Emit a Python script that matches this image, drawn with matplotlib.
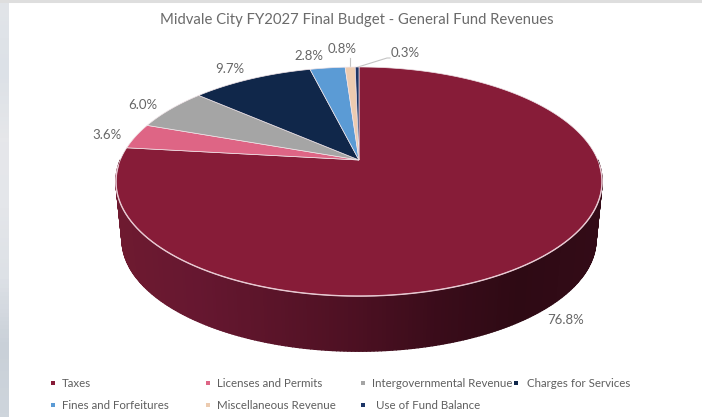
import numpy as np
import matplotlib
matplotlib.use('Agg')
import matplotlib.pyplot as plt
from matplotlib.collections import PolyCollection
from matplotlib.colors import LinearSegmentedColormap

plt.rcParams['font.family'] = ['Lato', 'DejaVu Sans']

TITLE = 'Midvale City FY2027 Final Budget - General Fund Revenues'
categories = ['Taxes', 'Licenses and Permits', 'Intergovernmental Revenue',
              'Charges for Services', 'Fines and Forfeitures',
              'Miscellaneous Revenue', 'Use of Fund Balance']
shares = [76.8, 3.6, 6.0, 9.7, 2.8, 0.8, 0.3]
colors = ['#871c38', '#de6585', '#a5a5a5', '#10274a', '#5b9bd5', '#eccbb0', '#1c3566']

# pie geometry in pixels, perspective tilt so the apex sits above the ellipse centre
CX, CY = 359, 160
A, B, K = 238.7, 110.5, 0.188
DEPTH_DY, DEPTH_SCALE = 58, 0.975


def rim(theta, dy=0.0, scale=1.0):
    # theta clockwise from the back of the pie, in radians
    u, v = np.sin(theta), np.cos(theta)
    d = 1 + K * v
    x = CX + scale * A * u / d
    y = 181.5 + scale * ((CY - 181.5) - B * v / d) + dy
    return x, y


fig = plt.figure(figsize=(7.02, 4.17), dpi=100)
ax = fig.add_axes([0, 0, 1, 1])
ax.axis('off')

# screenshot edges: grey-blue strip on the left, grey line on top
strip = np.linspace(0, 1, 100).reshape(-1, 1)
edge_cmap = LinearSegmentedColormap.from_list(
    'edge', ['#e2e5e9', '#dce1e7', '#e6e7ea', '#e4e6ea', '#dde1e6', '#c9d0d8', '#ced5dc'])
ax.imshow(strip, extent=(0, 9, 417, 0), cmap=edge_cmap, aspect='auto', zorder=0)
ax.set_xlim(0, 702)
ax.set_ylim(417, 0)
ax.plot([0, 702], [1, 1], color='#dedede', lw=2.2, zorder=1)

# side wall, shaded left to right
side_cmap = LinearSegmentedColormap.from_list(
    'side', ['#6e1a30', '#661730', '#5a1429', '#4c1022', '#3a0c1a', '#2e0a14', '#330b17'])
t = np.linspace(np.pi / 2, 3 * np.pi / 2, 241)
x_top, y_top = rim(t)
x_bot, y_bot = rim(t, DEPTH_DY, DEPTH_SCALE)
quads = []
for i in range(len(t) - 1):
    quads.append([(x_top[i], y_top[i]), (x_top[i + 1], y_top[i + 1]),
                  (x_bot[i + 1], y_bot[i + 1]), (x_bot[i], y_bot[i])])
frac = (x_top[:-1] - x_top.min()) / (x_top.max() - x_top.min())
side_colors = side_cmap(frac)
ax.add_collection(PolyCollection(quads, facecolors=side_colors, edgecolors=side_colors,
                                 linewidths=1.0, antialiaseds=True, zorder=2))

# top face
edges = np.cumsum([0] + shares) / 100 * 2 * np.pi
for start, end, col in zip(edges[:-1], edges[1:], colors):
    th = np.linspace(start, end, max(int((end - start) * 60), 3))
    wx, wy = rim(th)
    ax.fill(np.r_[CX, wx], np.r_[CY, wy], facecolor=col, edgecolor='#f0e4e8',
            linewidth=0.5, zorder=3)

# pale highlight along the front rim
x_hi, y_hi = rim(np.linspace(np.pi / 2 + 0.05, 3 * np.pi / 2 - 0.05, 200))
ax.plot(x_hi, y_hi, color='#e8c9d2', lw=1.0, zorder=4)

# data labels
label_pos = [(566, 320), (107, 135), (143, 105), (230, 69), (309, 56), (342, 49), (405, 53)]
for val, (lx, ly) in zip(shares, label_pos):
    ax.text(lx, ly, f'{val:.1f}%', ha='center', va='center', fontsize=9.5,
            color='#666666', zorder=5)
ax.plot([350, 350], [68, 58], color='#c4c4c4', lw=0.8, zorder=2)
ax.plot([358, 387, 390], [67, 58, 58], color='#c4c4c4', lw=0.8, zorder=2)

ax.text(357, 20, TITLE, ha='center', va='center', fontsize=10.7, color='#6b6b6b')

# legend
legend_pos = [(53, 383), (208, 383), (363, 383), (516, 383),
              (53, 405), (208, 405), (363, 405)]
text_gap = [9, 9, 9, 11, 9, 9, 13]
for name, col, (mx, my), gap in zip(categories, colors, legend_pos, text_gap):
    ax.scatter([mx], [my], marker='s', s=9, color=col, linewidths=0, zorder=5)
    ax.text(mx + gap, my + 0.5, name, ha='left', va='center', fontsize=8.3, color='#5f5f5f')

fig.savefig('out.png', dpi=100)
